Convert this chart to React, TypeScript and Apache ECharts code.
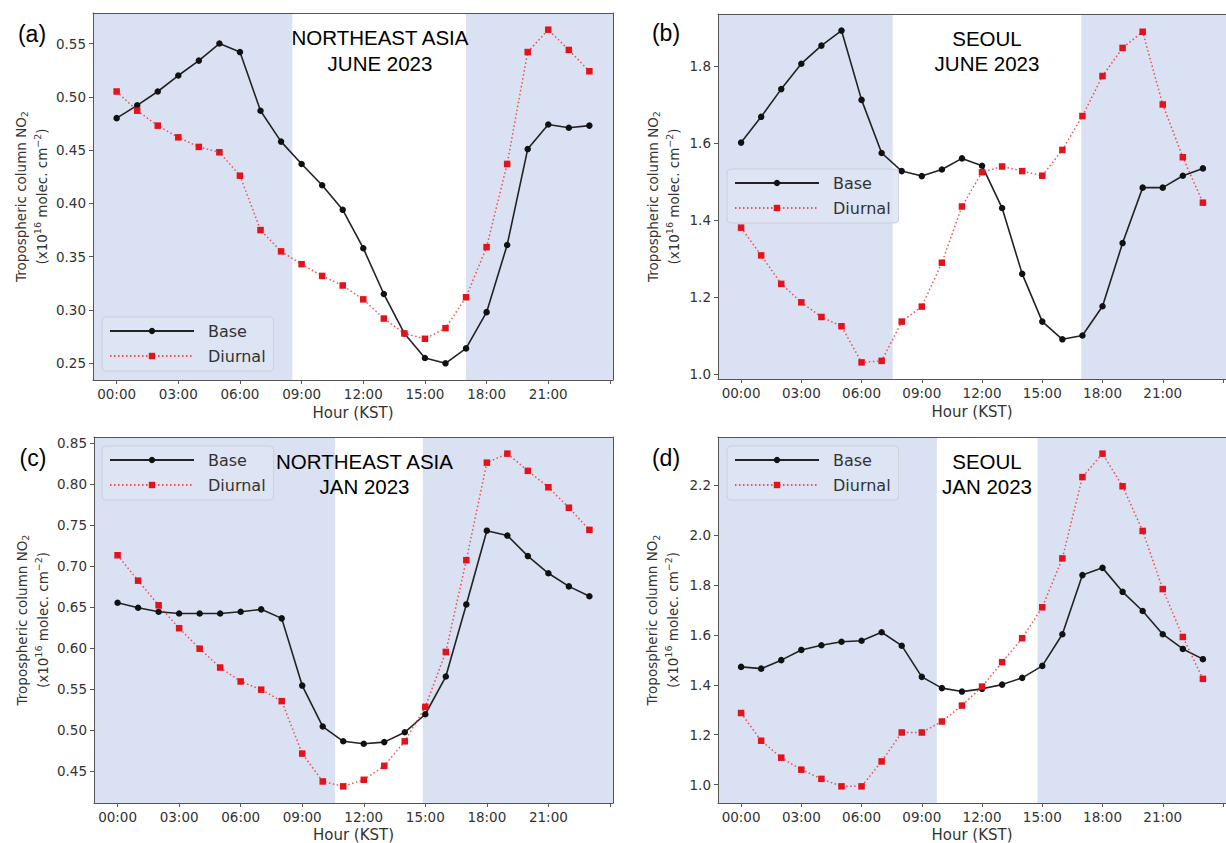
import React, { useEffect, useRef } from "react";
import * as echarts from "echarts";

// ---------- data ----------
const HOURS = [0, 1, 2, 3, 4, 5, 6, 7, 8, 9, 10, 11, 12, 13, 14, 15, 16, 17, 18, 19, 20, 21, 22, 23];
const HOUR_TICKS = [0, 3, 6, 9, 12, 15, 18, 21, 24];
const HOUR_LABELS = [0, 3, 6, 9, 12, 15, 18, 21];
const XMIN = -1.15;
const XMAX = 24.15;

const baseNEAJun = [0.480, 0.492, 0.505, 0.520, 0.534, 0.550, 0.542, 0.487, 0.458, 0.437, 0.417, 0.394, 0.358, 0.315, 0.278, 0.255, 0.250, 0.264, 0.298, 0.361, 0.451, 0.474, 0.471, 0.473];
const diurnalNEAJun = [0.505, 0.487, 0.473, 0.462, 0.453, 0.448, 0.426, 0.375, 0.355, 0.343, 0.332, 0.323, 0.310, 0.292, 0.278, 0.273, 0.283, 0.312, 0.359, 0.437, 0.542, 0.563, 0.544, 0.524];
const baseSeoulJun = [1.602, 1.669, 1.741, 1.807, 1.854, 1.893, 1.713, 1.575, 1.528, 1.515, 1.532, 1.561, 1.542, 1.432, 1.261, 1.137, 1.091, 1.101, 1.177, 1.341, 1.485, 1.485, 1.516, 1.535];
const diurnalSeoulJun = [1.381, 1.309, 1.235, 1.187, 1.149, 1.125, 1.031, 1.035, 1.137, 1.176, 1.290, 1.436, 1.525, 1.540, 1.528, 1.516, 1.583, 1.671, 1.775, 1.848, 1.890, 1.701, 1.564, 1.446];
const baseNEAJan = [0.655, 0.649, 0.644, 0.642, 0.642, 0.642, 0.644, 0.647, 0.636, 0.554, 0.504, 0.486, 0.483, 0.485, 0.497, 0.519, 0.565, 0.653, 0.743, 0.737, 0.712, 0.691, 0.675, 0.663];
const diurnalNEAJan = [0.713, 0.682, 0.652, 0.624, 0.599, 0.576, 0.559, 0.549, 0.535, 0.471, 0.437, 0.431, 0.439, 0.456, 0.486, 0.528, 0.595, 0.707, 0.826, 0.837, 0.816, 0.796, 0.771, 0.744];
const baseSeoulJan = [1.472, 1.465, 1.499, 1.540, 1.559, 1.573, 1.577, 1.611, 1.557, 1.432, 1.387, 1.373, 1.384, 1.401, 1.428, 1.476, 1.603, 1.840, 1.869, 1.773, 1.696, 1.603, 1.544, 1.503];
const diurnalSeoulJan = [1.287, 1.176, 1.108, 1.060, 1.023, 0.993, 0.993, 1.093, 1.209, 1.209, 1.253, 1.317, 1.393, 1.491, 1.587, 1.711, 1.907, 2.233, 2.327, 2.196, 2.017, 1.784, 1.592, 1.424];

const yTicksNEAJun = [0.25, 0.30, 0.35, 0.40, 0.45, 0.50, 0.55];
const yTicksSeoulJun = [1.0, 1.2, 1.4, 1.6, 1.8];
const yTicksNEAJan = [0.45, 0.50, 0.55, 0.60, 0.65, 0.70, 0.75, 0.80, 0.85];
const yTicksSeoulJan = [1.0, 1.2, 1.4, 1.6, 1.8, 2.0, 2.2];

// night (shaded) hour spans
const nightNEAJun = [[XMIN, 8.55], [17.0, XMAX]];
const nightSeoulJun = [[XMIN, 7.55], [16.94, XMAX]];
const nightNEAJan = [[XMIN, 10.6], [14.88, XMAX]];
const nightSeoulJan = [[XMIN, 9.75], [14.76, XMAX]];

const titles = ["NORTHEAST ASIA\nJUNE 2023", "SEOUL\nJUNE 2023", "NORTHEAST ASIA\nJAN 2023", "SEOUL\nJAN 2023"];
const panelTags = ["(a)", "(b)", "(c)", "(d)"];

// ---------- layout / style ----------
const TICK_FONT = "DejaVu Sans";
const TITLE_FONT = "Liberation Sans";
const SHADE = "#d9e1f2";
const SPINE = "#555";

const panels = [
  { base: baseNEAJun, diurnal: diurnalNEAJun, yTicks: yTicksNEAJun, dec: 2, night: nightNEAJun,
    left: 93, top: 13, width: 520, height: 367, nameGap: 40, xNameGap: 25.5,
    legLeft: 102, legTop: 317, titleX: 380, titleY: 24.75, tagX: 32, tagY: 34 },
  { base: baseSeoulJun, diurnal: diurnalSeoulJun, yTicks: yTicksSeoulJun, dec: 1, night: nightSeoulJun,
    left: 718, top: 14, width: 517, height: 365, nameGap: 34, xNameGap: 25.5,
    legLeft: 727, legTop: 169, titleX: 987, titleY: 25.5, tagX: 666, tagY: 33 },
  { base: baseNEAJan, diurnal: diurnalNEAJan, yTicks: yTicksNEAJan, dec: 2, night: nightNEAJan,
    left: 94, top: 437, width: 519, height: 366, nameGap: 41, xNameGap: 24,
    legLeft: 102, legTop: 446, titleX: 364.5, titleY: 448.5, tagX: 33, tagY: 458 },
  { base: baseSeoulJan, diurnal: diurnalSeoulJan, yTicks: yTicksSeoulJan, dec: 1, night: nightSeoulJan,
    left: 718, top: 437, width: 517, height: 366, nameGap: 34.5, xNameGap: 24,
    legLeft: 727, legTop: 446, titleX: 987, titleY: 448.5, tagX: 666, tagY: 458 },
];

function limits(arrs: number[][]): [number, number] {
  const all = arrs.flat();
  const lo = Math.min(...all);
  const hi = Math.max(...all);
  const m = (hi - lo) * 0.05;
  return [lo - m, hi + m];
}

const hourFmt = (v: number) => String(Math.round(v)).padStart(2, "0") + ":00";

const yName = "{a|Tropospheric column NO}{s|2}\n{a|(x10}{p|16}{a| molec. cm}{p|\u22122}{a|)}";
const yRich = {
  a: { fontSize: 13.5, lineHeight: 21, color: "#333", fontFamily: TICK_FONT },
  s: { fontSize: 9.5, lineHeight: 21, color: "#333", fontFamily: TICK_FONT, padding: [8, 0, 0, 0] },
  p: { fontSize: 9.5, lineHeight: 21, color: "#333", fontFamily: TICK_FONT, padding: [0, 0, 9, 0] },
};

function buildOption() {
  const grid: any[] = [];
  const xAxis: any[] = [];
  const yAxis: any[] = [];
  const series: any[] = [];
  const legend: any[] = [];
  const graphic: any[] = [];

  panels.forEach((p, i) => {
    const [ymin, ymax] = limits([p.base, p.diurnal]);
    grid.push({ left: p.left, top: p.top, width: p.width, height: p.height, show: false });

    xAxis.push({
      gridIndex: i, type: "value", min: XMIN, max: XMAX, position: "bottom", z: 10,
      axisLine: { show: true, onZero: false, lineStyle: { color: SPINE, width: 1 } },
      axisTick: { show: true, length: 4, lineStyle: { color: SPINE, width: 1 }, customValues: HOUR_TICKS },
      axisLabel: { customValues: HOUR_LABELS, formatter: hourFmt, color: "#333", fontSize: 13.5, fontFamily: TICK_FONT, margin: 6.5 },
      splitLine: { show: false },
      name: "Hour (KST)", nameLocation: "middle", nameGap: p.xNameGap,
      nameTextStyle: { color: "#333", fontSize: 15, fontFamily: TICK_FONT },
    });
    xAxis.push({
      gridIndex: i, type: "value", min: XMIN, max: XMAX, position: "top", z: 10,
      axisLine: { show: true, onZero: false, lineStyle: { color: SPINE, width: 1 } },
      axisTick: { show: false }, axisLabel: { show: false }, splitLine: { show: false },
    });
    yAxis.push({
      gridIndex: i, type: "value", min: ymin, max: ymax, position: "left", z: 10,
      axisLine: { show: true, onZero: false, lineStyle: { color: SPINE, width: 1 } },
      axisTick: { show: true, length: 4, lineStyle: { color: SPINE, width: 1 }, customValues: p.yTicks },
      axisLabel: { customValues: p.yTicks, formatter: (v: number) => v.toFixed(p.dec), color: "#333", fontSize: 13.5, fontFamily: TICK_FONT, margin: 7 },
      splitLine: { show: false },
      name: yName, nameLocation: "middle", nameRotate: 90, nameGap: p.nameGap,
      nameTextStyle: { color: "#333", fontSize: 13.5, fontFamily: TICK_FONT, lineHeight: 21, rich: yRich },
    });
    yAxis.push({
      gridIndex: i, type: "value", min: ymin, max: ymax, position: "right", z: 10,
      axisLine: { show: true, onZero: false, lineStyle: { color: SPINE, width: 1 } },
      axisTick: { show: false }, axisLabel: { show: false }, splitLine: { show: false },
    });

    // night shading
    series.push({
      type: "line", xAxisIndex: i * 2, yAxisIndex: i * 2, data: [], z: 1, silent: true,
      markArea: {
        silent: true,
        itemStyle: { color: SHADE },
        data: p.night.map(([a, b]) => [{ xAxis: a }, { xAxis: b }]),
      },
    });
    series.push({
      name: "Base", type: "line", xAxisIndex: i * 2, yAxisIndex: i * 2, z: 3,
      data: HOURS.map((h, k) => [h, p.base[k]]),
      symbol: "circle", symbolSize: 6.5, showSymbol: true,
      itemStyle: { color: "#111" },
      lineStyle: { color: "#222", width: 1.6 },
    });
    series.push({
      name: "Diurnal", type: "line", xAxisIndex: i * 2, yAxisIndex: i * 2, z: 4,
      data: HOURS.map((h, k) => [h, p.diurnal[k]]),
      symbol: "rect", symbolSize: 6.5, showSymbol: true,
      itemStyle: { color: "#e3121b" },
      lineStyle: { color: "rgba(245,40,40,0.8)", width: 1.5, type: [1.5, 2.5] },
    });

    legend.push({
      data: ["Base", "Diurnal"], orient: "vertical", left: p.legLeft, top: p.legTop, z: 10,
      itemWidth: 84, itemHeight: 8, itemGap: 7, padding: [5, 8, 6, 7],
      backgroundColor: "rgba(221,228,243,0.85)", borderColor: "#c9d0dc", borderWidth: 1, borderRadius: 4,
      selectedMode: false,
      textStyle: { fontSize: 16, fontFamily: TICK_FONT, color: "#333", lineHeight: 18, padding: [0, 0, 0, 9] },
    });

    graphic.push({
      type: "text", x: p.titleX, y: p.titleY, z: 20,
      style: { text: titles[i], fill: "#000", fontSize: 20.5, fontFamily: TITLE_FONT,
        textAlign: "center", textVerticalAlign: "top", align: "center", verticalAlign: "top", lineHeight: 25.5 },
    });
    graphic.push({
      type: "text", x: p.tagX, y: p.tagY, z: 20,
      style: { text: panelTags[i], fill: "#000", fontSize: 23, fontFamily: TITLE_FONT,
        textAlign: "center", textVerticalAlign: "middle", align: "center", verticalAlign: "middle" },
    });
  });

  return { animation: false, backgroundColor: "#fff", grid, xAxis, yAxis, series, legend, graphic };
}

export default function App() {
  const ref = useRef<HTMLDivElement>(null);
  useEffect(() => {
    if (!ref.current) return;
    const chart = echarts.init(ref.current, undefined, { renderer: "svg" });
    chart.setOption(buildOption() as any);
    return () => chart.dispose();
  }, []);
  return <div ref={ref} style={{ position: "absolute", left: 0, top: 0, width: 1226, height: 843 }} />;
}
